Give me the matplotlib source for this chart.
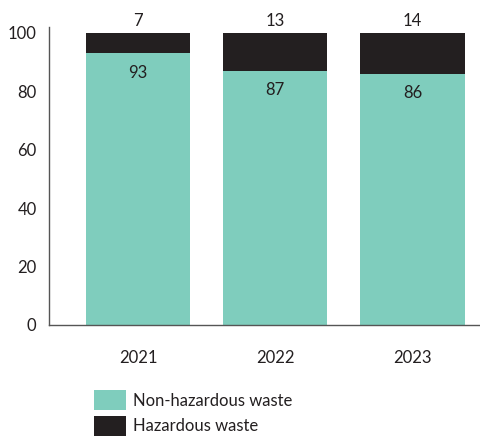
import matplotlib.pyplot as plt
from matplotlib.patches import Patch

plt.rcParams['font.family'] = ['Lato', 'DejaVu Sans']

years = ['2021', '2022', '2023']
non_hazardous = [93, 87, 86]
hazardous = [7, 13, 14]

green = '#7fcdbd'
dark = '#231f20'
text_c = '#231f20'

fig = plt.figure(figsize=(4.81, 4.38), dpi=100)
ax = fig.add_axes([0.102, 0.258, 0.898, 0.680])

x = list(range(len(years)))
ax.bar(x, non_hazardous, width=0.76, color=green, zorder=2)
ax.bar(x, hazardous, width=0.76, bottom=non_hazardous, color=dark, zorder=2)

for xi, nh, hz in zip(x, non_hazardous, hazardous):
    ax.annotate(str(nh), (xi, nh), xytext=(0, -8), textcoords='offset points',
                ha='center', va='top', fontsize=12, color=text_c)
    ax.annotate(str(hz), (xi, nh + hz), xytext=(0, 3), textcoords='offset points',
                ha='center', va='bottom', fontsize=12, color=text_c)

ax.set_xlim(-0.65, 2.5)
ax.set_ylim(0, 102)
ax.set_yticks([0, 20, 40, 60, 80, 100])
ax.set_xticks(x)
ax.set_xticklabels(years)
ax.tick_params(axis='both', length=0, labelsize=12, colors=text_c)
ax.tick_params(axis='x', pad=18)
ax.tick_params(axis='y', pad=9)

for s in ['top', 'right']:
    ax.spines[s].set_visible(False)
for s in ['left', 'bottom']:
    ax.spines[s].set_color('#555555')
    ax.spines[s].set_linewidth(1.0)

handles = [Patch(facecolor=green, label='Non-hazardous waste'),
           Patch(facecolor=dark, label='Hazardous waste')]
fig.legend(handles=handles, loc='upper left', bbox_to_anchor=(86 / 481, 1 - 382 / 438),
           frameon=False, fontsize=12, handlelength=1.9, handleheight=1.45,
           handletextpad=0.4, labelspacing=0.35, borderpad=0, labelcolor=text_c)

fig.savefig('out.png', dpi=100)
